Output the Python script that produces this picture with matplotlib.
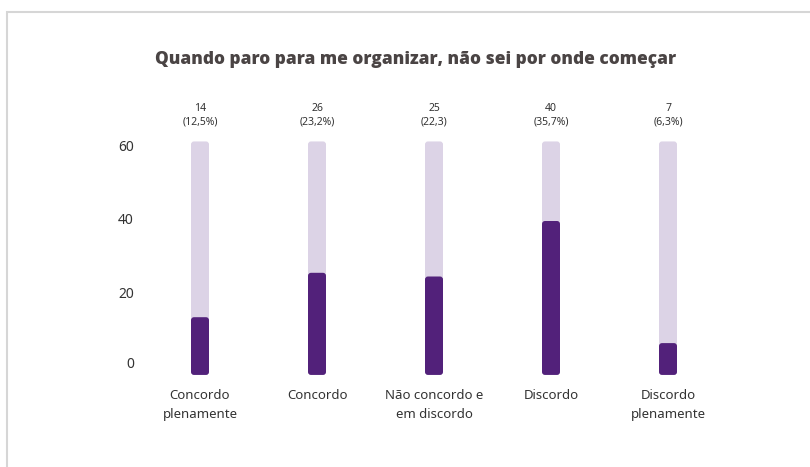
import matplotlib.pyplot as plt
from matplotlib.patches import FancyBboxPatch, Rectangle

categories = ['Concordo\nplenamente', 'Concordo', 'Não concordo e\nem discordo',
              'Discordo', 'Discordo\nplenamente']
counts = [14, 26, 25, 40, 7]
count_labels = ['14\n(12,5%)', '26\n(23,2%)', '25\n(22,3)', '40\n(35,7%)', '7\n(6,3%)']
track_max = 61.5
yticks = [0, 20, 40, 60]

DARK = '#52217a'
LIGHT = '#dcd3e6'
TEXT = '#333333'

W, H = 810, 467
fig = plt.figure(figsize=(W / 100, H / 100), dpi=100)
fig.patch.set_facecolor('white')

# card border (partly off-canvas)
fig.patches.append(Rectangle((7 / W, -0.1), 1.2, (H - 12) / H + 0.1,
                             transform=fig.transFigure, fill=False,
                             edgecolor='#d6d6d6', linewidth=1.5))

# axes placed so 0 sits at y=369px, 3.7 px per unit
ax_top, ax_bot = 100, 440
ax_left, ax_right = 140, 785
ax = fig.add_axes([ax_left / W, 1 - ax_bot / H, (ax_right - ax_left) / W, (ax_bot - ax_top) / H])
ax.set_xlim(-60 / 117, 5.0)
ax.set_ylim((369 - ax_bot) / 3.7, (369 - ax_top) / 3.7)
ax.axis('off')

bar_w = 18 / 117
r = 3 / 117
aspect = 117 / 3.7
for i, v in enumerate(counts):
    x0 = i - bar_w / 2
    # light track, then the dark value bar on top
    ax.add_patch(FancyBboxPatch((x0 + r, -1.6 + r * aspect), bar_w - 2 * r,
                                track_max + 1.6 - 2 * r * aspect,
                                boxstyle=f'round,pad={r},rounding_size={r}',
                                mutation_aspect=aspect, facecolor=LIGHT, edgecolor='none'))
    ax.add_patch(FancyBboxPatch((x0 + r, -1.6 + r * aspect), bar_w - 2 * r,
                                v + 1.6 - 2 * r * aspect,
                                boxstyle=f'round,pad={r},rounding_size={r}',
                                mutation_aspect=aspect, facecolor=DARK, edgecolor='none'))
    ax.text(i, 68.6, count_labels[i], ha='center', va='center', fontsize=7.5,
            color=TEXT, linespacing=1.35, family='Noto Sans')
    ax.text(i, -5.3, categories[i], ha='center', va='top', fontsize=9.5,
            color=TEXT, linespacing=1.6, family='Noto Sans')

for t in yticks:
    ax.text(-60 / 117 - 6 / 117, t + (1.3 if t == 0 else 0), str(t), ha='right', va='center',
            fontsize=10, color=TEXT, family='Noto Sans')

fig.text(416 / W, 1 - 60 / H, 'Quando paro para me organizar, não sei por onde começar',
         ha='center', va='center', fontsize=12.4, fontweight=800,
         color='#4a4444', family='Open Sans')

fig.savefig('out.png', dpi=100)
